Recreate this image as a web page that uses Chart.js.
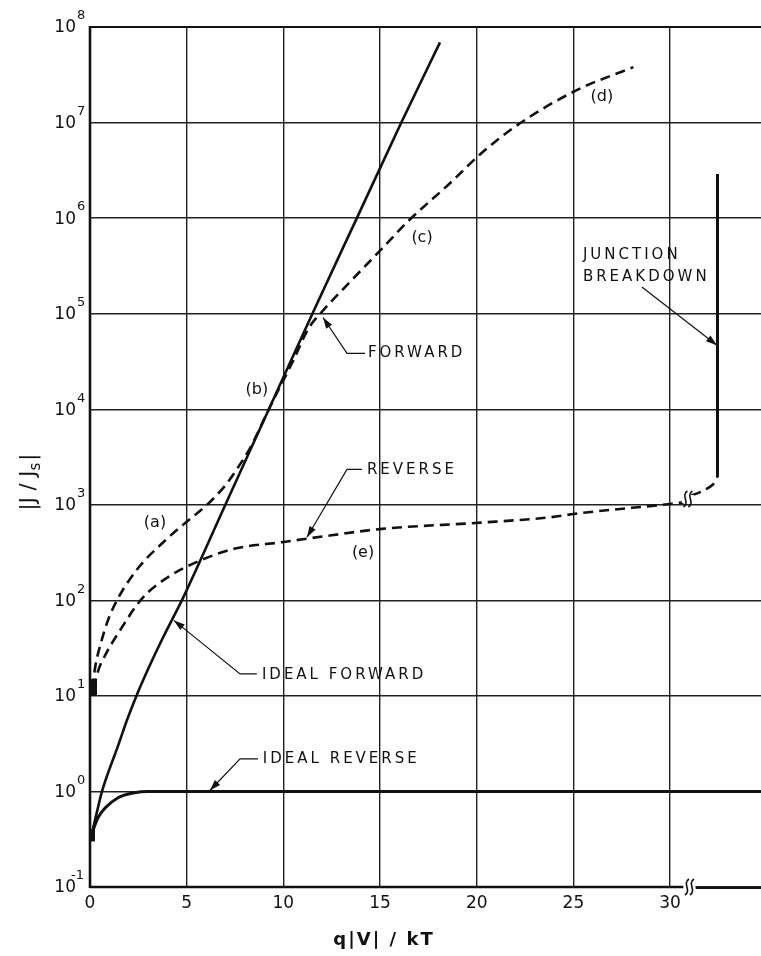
<!DOCTYPE html>
<html lang="en">
<head>
<meta charset="UTF-8">
<title>|J/Js| vs q|V|/kT</title>
<script src="https://cdn.jsdelivr.net/npm/chart.js"></script>
<style>
  html,body{margin:0;padding:0;background:#fff;}
  #jv{display:block;}
</style>
</head>
<body>
<canvas id="jv" width="761" height="956"></canvas>
<script>
// values
const xTicks = [0, 5, 10, 15, 20, 25, 30];
const yTicks = [0.1, 1, 10, 100, 1e3, 1e4, 1e5, 1e6, 1e7, 1e8];
const yExp   = ['-1', '0', '1', '2', '3', '4', '5', '6', '7', '8'];

const idealFwdX = [0.09, 0.35, 0.62, 1.0, 1.45, 1.9, 2.4, 3.0, 3.7, 4.85, 7.0, 9.25, 11.5, 13.8, 16.1, 18.1];
const idealFwdY = [0.36, 0.6, 1, 1.7, 3, 5.5, 10, 19, 38, 110, 1000, 1e4, 1e5, 1e6, 1e7, 6.9e7];

const idealRevX = [0.09, 0.41, 0.78, 1.45, 2.3, 3.0, 34.7];
const idealRevY = [0.36, 0.53, 0.67, 0.86, 0.97, 1.0, 1.0];

const fwdX = [0.12, 0.26, 0.6, 0.93, 1.45, 2.5, 3.9, 5.06, 6.1, 7.0, 7.65, 8.3, 9.3, 10.5, 11.3, 12.0, 13.4, 15.1, 16.5, 18.6, 20.15, 22.1, 25.2, 28.1];
const fwdY = [12, 19.6, 38, 62, 105, 219, 425, 680, 1020, 1600, 2450, 4000, 1.05e4, 3.2e4, 7e4, 1.05e5, 2.1e5, 4.8e5, 9.5e5, 2.3e6, 4.6e6, 9.4e6, 2.2e7, 3.8e7];

const revX = [0.2, 0.41, 0.8, 1.45, 2.7, 4.0, 5.7, 7.5, 9.9, 12.5, 15.1, 20.2, 23.8, 25.2, 30.0, 30.7];
const revY = [12, 18, 27, 45, 105, 173, 261, 348, 405, 480, 560, 650, 740, 810, 1020, 1060];

const kneeX = [31.1, 31.7, 32.2, 32.45];
const kneeY = [1250, 1400, 1620, 1950];

const bdX = [32.45, 32.45];
const bdY = [1950, 2.9e6];

const pts = (xs, ys) => xs.map((x, i) => ({x, y: ys[i]}));

// labels in data units (x, log10 y)
const curveTags = [
  ['(a)', 3.36, 2.81], ['(b)', 8.63, 4.20], ['(c)', 17.17, 5.79],
  ['(d)', 26.47, 7.27], ['(e)', 14.12, 2.50]
];
const callouts = [
  {lines: ['FORWARD'], at: [14.37, 4.585], path: [[14.22, 4.585], [13.29, 4.585], [12.05, 4.96]]},
  {lines: ['REVERSE'], at: [14.32, 3.36], path: [[14.06, 3.37], [13.29, 3.37], [11.22, 2.66]]},
  {lines: ['IDEAL FORWARD'], at: [8.89, 1.22], path: [[8.63, 1.23], [7.76, 1.23], [4.34, 1.79]]},
  {lines: ['IDEAL REVERSE'], at: [8.94, 0.34], path: [[8.69, 0.34], [7.76, 0.34], [6.2, 0.01]]},
  {lines: ['JUNCTION', 'BREAKDOWN'], at: [25.49, 5.61], path: [[28.54, 5.28], [32.42, 4.67]]}
];

const FONT = '"DejaVu Sans", sans-serif';

function arrowTo(ctx, x0, y0, x1, y1) {
  const a = Math.atan2(y1 - y0, x1 - x0), L = 11, W = 3.6;
  ctx.beginPath();
  ctx.moveTo(x1, y1);
  ctx.lineTo(x1 - L * Math.cos(a) + W * Math.sin(a), y1 - L * Math.sin(a) - W * Math.cos(a));
  ctx.lineTo(x1 - L * Math.cos(a) - W * Math.sin(a), y1 - L * Math.sin(a) + W * Math.cos(a));
  ctx.closePath();
  ctx.fill();
}

function breakMark(ctx, px, py) {
  ctx.save();
  ctx.fillStyle = '#fff';
  ctx.fillRect(px - 6, py - 4, 12, 8);
  ctx.strokeStyle = '#111';
  ctx.lineWidth = 1.6;
  for (const dx of [-2.5, 2.5]) {
    ctx.beginPath();
    ctx.moveTo(px + dx - 2, py + 8);
    ctx.bezierCurveTo(px + dx + 5, py + 3, px + dx - 5, py - 3, px + dx + 2, py - 8);
    ctx.stroke();
  }
  ctx.restore();
}

const decor = {
  id: 'decor',
  afterDraw(chart) {
    const {ctx, chartArea: ca, scales: {x, y}} = chart;
    const X = v => x.getPixelForValue(v), Y = lg => y.getPixelForValue(Math.pow(10, lg));
    ctx.save();
    ctx.strokeStyle = '#111';
    ctx.fillStyle = '#111';

    // frame: top, left, bottom (with break)
    ctx.lineWidth = 2;
    ctx.beginPath(); ctx.moveTo(ca.left, ca.top); ctx.lineTo(ca.right, ca.top); ctx.stroke();
    ctx.lineWidth = 2.6;
    ctx.beginPath(); ctx.moveTo(ca.left, ca.top - 1); ctx.lineTo(ca.left, ca.bottom + 1); ctx.stroke();
    ctx.beginPath(); ctx.moveTo(ca.left, ca.bottom); ctx.lineTo(X(31.0) - 6, ca.bottom); ctx.stroke();
    ctx.lineWidth = 2;
    ctx.beginPath(); ctx.moveTo(X(31.0) + 6, ca.bottom + 1); ctx.lineTo(ca.right, ca.bottom + 1); ctx.stroke();
    breakMark(ctx, X(31.0), ca.bottom);
    breakMark(ctx, X(30.92), y.getPixelForValue(1150));

    // blobs where the curves start
    ctx.fillRect(ca.left, y.getPixelForValue(15), 7, y.getPixelForValue(10) - y.getPixelForValue(15));
    ctx.fillRect(ca.left, y.getPixelForValue(0.4), 5, y.getPixelForValue(0.3) - y.getPixelForValue(0.4));

    // y tick labels 10^n
    ctx.textBaseline = 'middle';
    yTicks.forEach((v, i) => {
      const py = y.getPixelForValue(v);
      ctx.font = '17px ' + FONT;
      ctx.textAlign = 'right';
      ctx.fillText('10', 76, py + 1);
      ctx.font = '13px ' + FONT;
      ctx.textAlign = yExp[i].length > 1 ? 'right' : 'left';
      ctx.fillText(yExp[i], yExp[i].length > 1 ? 84 : 77, py - 11);
    });

    // x tick labels
    ctx.font = '17px ' + FONT;
    ctx.textAlign = 'center';
    xTicks.forEach(v => ctx.fillText(String(v), X(v), ca.bottom + 17));

    // axis titles
    ctx.font = 'bold 18px ' + FONT;
    ctx.letterSpacing = '2px';
    ctx.fillText('q|V| / kT', 384, 940);
    ctx.letterSpacing = '0px';

    ctx.save();
    ctx.translate(30, 482);
    ctx.rotate(-Math.PI / 2);
    ctx.font = '21px ' + FONT;
    ctx.textAlign = 'left';
    const a = '|J / J', s = 's', b = '|';
    const wa = ctx.measureText(a).width;
    ctx.font = '15px ' + FONT;
    const ws = ctx.measureText(s).width;
    ctx.font = '21px ' + FONT;
    const wb = ctx.measureText(b).width;
    const x0 = -(wa + ws + wb + 2) / 2;
    ctx.fillText(a, x0, 0);
    ctx.font = '15px ' + FONT;
    ctx.fillText(s, x0 + wa, 6);
    ctx.font = '21px ' + FONT;
    ctx.fillText(b, x0 + wa + ws + 2, 0);
    ctx.restore();

    // curve tags
    ctx.font = '16px ' + FONT;
    ctx.textAlign = 'center';
    curveTags.forEach(([t, xv, lg]) => ctx.fillText(t, X(xv), Y(lg)));

    // callouts with leader arrows
    ctx.font = '15px ' + FONT;
    ctx.letterSpacing = '3px';
    ctx.textAlign = 'left';
    callouts.forEach(c => {
      c.lines.forEach((ln, k) => ctx.fillText(ln, X(c.at[0]), Y(c.at[1]) + k * 22));
      const p = c.path.map(([xv, lg]) => [X(xv), Y(lg)]);
      ctx.lineWidth = 1.2;
      ctx.beginPath();
      ctx.moveTo(p[0][0], p[0][1]);
      p.slice(1).forEach(q => ctx.lineTo(q[0], q[1]));
      ctx.stroke();
      const n = p.length;
      arrowTo(ctx, p[n - 2][0], p[n - 2][1], p[n - 1][0], p[n - 1][1]);
    });
    ctx.letterSpacing = '0px';
    ctx.restore();
  }
};

const solid = {borderColor: '#111', borderWidth: 2.6, pointRadius: 0, fill: false, cubicInterpolationMode: 'monotone'};
const dashed = {...solid, borderDash: [10, 6], borderWidth: 2.6};

new Chart(document.getElementById('jv'), {
  type: 'line',
  data: {
    datasets: [
      {...solid, label: 'Ideal forward', data: pts(idealFwdX, idealFwdY)},
      {...solid, label: 'Ideal reverse', data: pts(idealRevX, idealRevY), borderWidth: 3},
      {...dashed, label: 'Forward', data: pts(fwdX, fwdY)},
      {...dashed, label: 'Reverse', data: pts(revX, revY)},
      {...dashed, label: 'Reverse (knee)', data: pts(kneeX, kneeY), tension: 0.3, cubicInterpolationMode: 'default'},
      {...solid, label: 'Breakdown', data: pts(bdX, bdY), borderWidth: 3, cubicInterpolationMode: 'default', tension: 0}
    ]
  },
  options: {
    responsive: false,
    animation: false,
    layout: {padding: {left: 90, top: 27, right: 0, bottom: 69}},
    plugins: {legend: {display: false}, tooltip: {enabled: false}},
    scales: {
      x: {
        type: 'linear', min: 0, max: 34.7,
        afterBuildTicks: ax => { ax.ticks = xTicks.map(v => ({value: v})); },
        ticks: {display: false},
        grid: {color: '#222', lineWidth: 1.4, drawTicks: false},
        border: {display: false}
      },
      y: {
        type: 'logarithmic', min: 0.1, max: 1e8,
        afterBuildTicks: ax => { ax.ticks = yTicks.map(v => ({value: v})); },
        ticks: {display: false},
        grid: {color: '#222', lineWidth: 1.4, drawTicks: false},
        border: {display: false}
      }
    }
  },
  plugins: [decor]
});
</script>
</body>
</html>
